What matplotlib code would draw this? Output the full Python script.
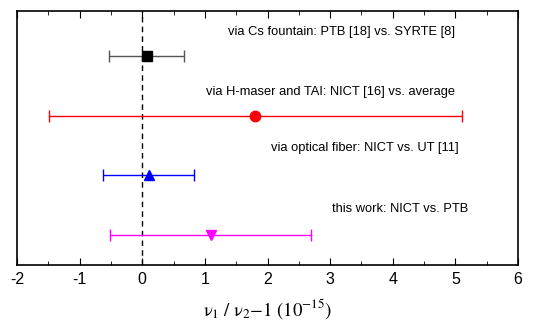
import matplotlib
matplotlib.use("Agg")
import matplotlib.pyplot as plt

plt.rcParams['font.family'] = ['Liberation Sans', 'DejaVu Sans']
plt.rcParams['mathtext.fontset'] = 'stix'
plt.rcParams['axes.unicode_minus'] = False

labels = ['via Cs fountain: PTB [18] vs. SYRTE [8]',
          'via H-maser and TAI: NICT [16] vs. average',
          'via optical fiber: NICT vs. UT [11]',
          'this work: NICT vs. PTB']
values = [0.07, 1.80, 0.11, 1.09]
err_low = [0.60, 3.29, 0.73, 1.60]
err_high = [0.60, 3.30, 0.72, 1.61]
ypos = [4, 3, 2, 1]
colors = ['black', 'red', 'blue', 'magenta']
ecolors = ['#555555', 'red', 'blue', 'magenta']
markers = ['s', 'o', '^', 'v']
msizes = [6.5, 7.5, 7.5, 7.5]
label_x = [5.0, 5.0, 5.05, 5.2]
label_dy = [0.4, 0.4, 0.45, 0.43]

fig = plt.figure(figsize=(5.45, 3.22), dpi=100)
ax = fig.add_axes([17 / 545, 1 - 265 / 322, 501 / 545, 254 / 322])

ax.axvline(0, color='black', ls=(0, (4, 3)), lw=1)

for i in range(len(labels)):
    ax.errorbar(values[i], ypos[i], xerr=[[err_low[i]], [err_high[i]]],
                fmt=markers[i], color=colors[i], ecolor=ecolors[i],
                ms=msizes[i], elinewidth=1, capsize=4, capthick=1)
    ax.text(label_x[i], ypos[i] + label_dy[i], labels[i],
            ha='right', va='center', fontsize=9.3)

ax.set_xlim(-2, 6)
ax.set_ylim(0.5, 4.75)
ax.set_xticks(range(-2, 7))
ax.set_xticks([x / 2 for x in range(-4, 13)], minor=True)
ax.set_yticks([])
ax.tick_params(axis='x', which='both', direction='in', top=True,
               labelsize=11.5, pad=5)
ax.tick_params(axis='x', which='major', length=5)
ax.tick_params(axis='x', which='minor', length=3)
for s in ax.spines.values():
    s.set_linewidth(1.2)

ax.set_xlabel(r'$\mathrm{\nu_1\ /\ \nu_2{-}1\ (10^{-15})}$', fontsize=13.5,
              labelpad=7)

fig.savefig('out.png', dpi=100)
